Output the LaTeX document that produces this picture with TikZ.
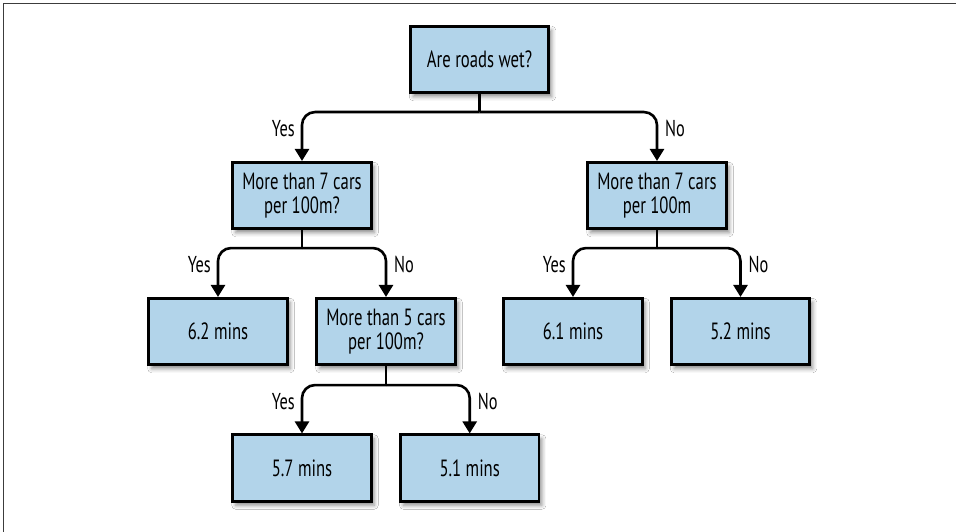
\documentclass[tikz,border=0pt]{standalone}
\usepackage{fontspec}
\setmainfont{PT Sans}[FakeStretch=0.71]
\usetikzlibrary{arrows.meta,calc,shadows,shadows.blur}
\definecolor{boxblue}{RGB}{178,212,234}
\definecolor{framegray}{RGB}{60,60,60}
\begin{document}
\begin{tikzpicture}[x=1pt,y=-1pt,
  decbox/.style={draw=black, line width=2.6pt, fill=boxblue,
    minimum width=138.5pt, minimum height=66.5pt, inner sep=0pt,
    align=center, font=\fontsize{23.5}{23.5}\selectfont,
    blur shadow={shadow xshift=3pt, shadow yshift=-4pt, shadow blur radius=4pt, shadow opacity=45}},
  stem/.style={line width=2.6pt, draw=black},
  conn/.style={line width=2.6pt, draw=black, rounded corners=13pt,
    -{Triangle[width=14pt,length=12pt]}},
  lbl/.style={font=\fontsize{23}{23.5}\selectfont, inner sep=0pt}
]
\useasboundingbox (0,0) rectangle (956,532);
\fill[white] (0,0) rectangle (956,532);
\draw[framegray, line width=1.6pt] (3.5,532) -- (3.5,3.5) -- (956,3.5);

\node[decbox] (root) at (479.5,59.5) {Are roads wet?};
\node[decbox] (l1L) at (302,195.5) {More than 7 cars\\per 100m?};
\node[decbox] (l1R) at (657,195.5) {More than 7 cars\\per 100m};
\node[decbox] (l2a) at (218,331.5) {6.2 mins};
\node[decbox] (l2b) at (386,331.5) {More than 5 cars\\per 100m?};
\node[decbox] (l2c) at (573,331.5) {6.1 mins};
\node[decbox] (l2d) at (740.5,331.5) {5.2 mins};
\node[decbox] (l3a) at (302,468) {5.7 mins};
\node[decbox] (l3b) at (469.7,468) {5.1 mins};

\coordinate (j0) at ($(root.south)+(0,18)$);
\coordinate (j1) at ($(l1L.south)+(0,18)$);
\coordinate (j2) at ($(l1R.south)+(0,18)$);
\coordinate (j3) at ($(l2b.south)+(0,19)$);

\draw[stem] (root.south) -- (j0);
\draw[conn] (j0) -| (l1L.north);
\draw[conn] (j0) -| (l1R.north);
\draw[stem] (l1L.south) -- (j1);
\draw[conn] (j1) -| (l2a.north);
\draw[conn] (j1) -| (l2b.north);
\draw[stem] (l1R.south) -- (j2);
\draw[conn] (j2) -| (l2c.north);
\draw[conn] (j2) -| (l2d.north);
\draw[stem] (l2b.south) -- (j3);
\draw[conn] (j3) -| (l3a.north);
\draw[conn] (j3) -| (l3b.north);

\node[lbl, anchor=east] (t1) at ($(l1L.north)+(-7,-32)$) {Yes};
\node[lbl, anchor=west] (t2) at ($(l1R.north)+(8,-32)$) {No};
\node[lbl, anchor=east] (t3) at ($(l2a.north)+(-7,-32)$) {Yes};
\node[lbl, anchor=west] (t4) at ($(l2b.north)+(8,-32)$) {No};
\node[lbl, anchor=east] (t5) at ($(l2c.north)+(-7,-32)$) {Yes};
\node[lbl, anchor=west] (t6) at ($(l2d.north)+(8,-32)$) {No};
\node[lbl, anchor=east] (t7) at ($(l3a.north)+(-7,-32)$) {Yes};
\node[lbl, anchor=west] (t8) at ($(l3b.north)+(8,-32)$) {No};
\end{tikzpicture}
\end{document}
